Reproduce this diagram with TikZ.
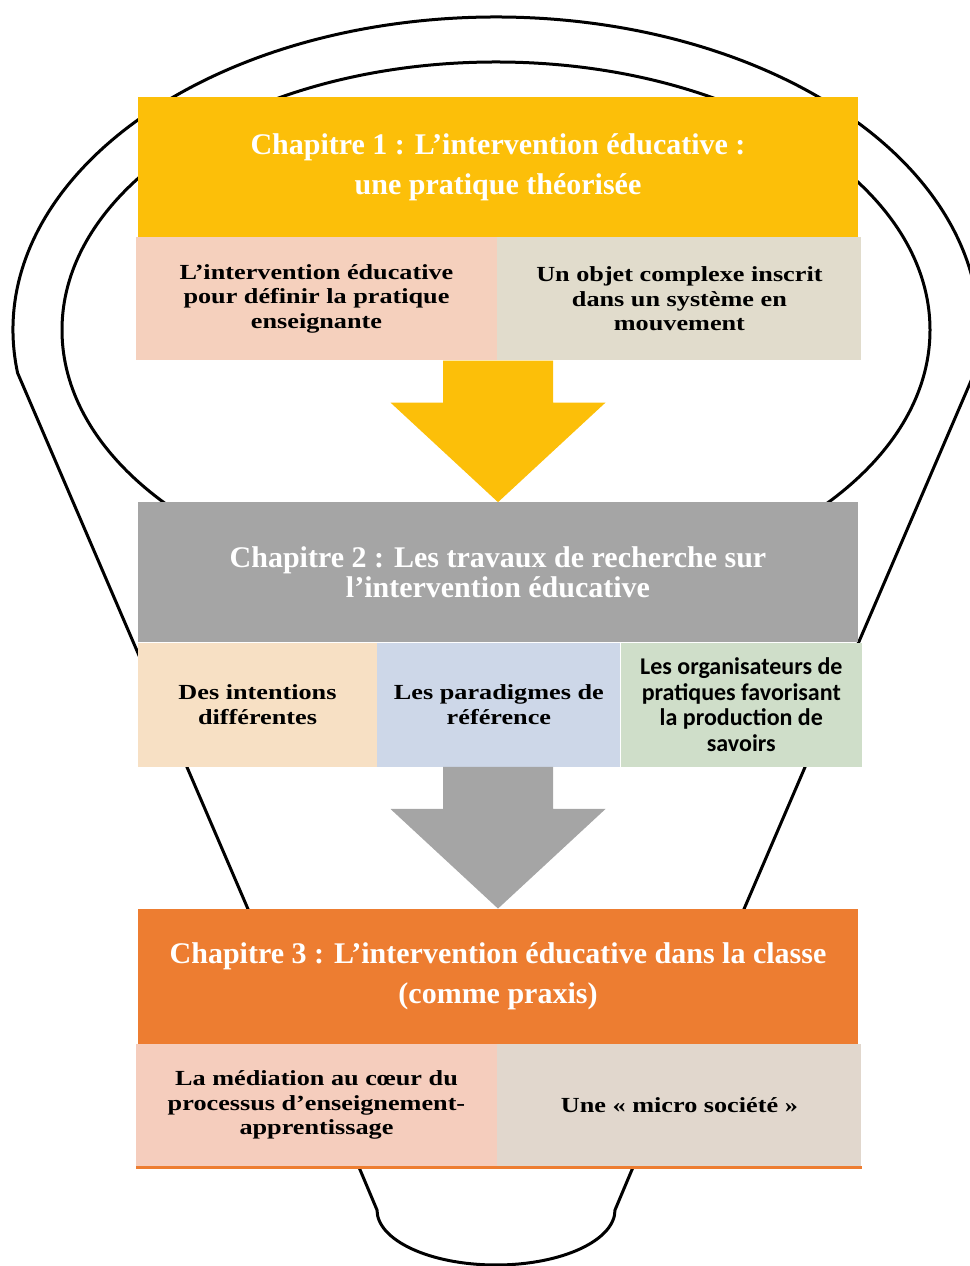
\documentclass[tikz,border=0pt]{standalone}
\usepackage{fontspec}
\setmainfont{Liberation Serif}
\newfontfamily\widefont{Liberation Serif}[FakeStretch=1.22]
\newfontfamily\calfont{Carlito}
\usetikzlibrary{positioning}

\definecolor{chapA}{RGB}{252,191,9}
\definecolor{chapB}{RGB}{165,165,165}
\definecolor{chapC}{RGB}{237,125,49}
\definecolor{roseA}{RGB}{245,208,189}
\definecolor{beigeA}{RGB}{225,220,204}
\definecolor{peche}{RGB}{247,224,196}
\definecolor{bleu}{RGB}{205,215,232}
\definecolor{vert}{RGB}{207,222,201}
\definecolor{roseC}{RGB}{245,205,189}
\definecolor{beigeC}{RGB}{225,215,205}

\begin{document}
\begin{tikzpicture}[x=1pt, y=1pt, node distance=0pt,
	titre/.style={fill=#1, text=white, font=\bfseries\fontsize{30}{40}\selectfont, align=center, minimum width=720pt, inner sep=0pt},
	sous/.style={fill=#1, text=black, font=\widefont\bfseries\fontsize{21.5}{24.5}\selectfont, align=center, inner sep=0pt},
	bulbe/.style={draw=black, line width=3pt}]
	\useasboundingbox (0,0) rectangle (969,1266);

	\draw[bulbe] (496,936) ellipse [x radius=434, y radius=268];
	\draw[bulbe] (361,94) -- (17.6,893) arc[start angle=187.9, end angle=-7.9, x radius=483, y radius=313]
		-- (631,94) -- (615,56) arc[start angle=0, end angle=-180, x radius=119, y radius=55] -- cycle;

	\node[titre=chapA, minimum height=140pt] (t1) at (498,1099) {Chapitre 1 : L’intervention éducative :\\ une pratique théorisée};
	\node[sous=roseA, minimum width=361pt, minimum height=123pt, below right=0pt and -2pt of t1.south west] (a1) {L’intervention éducative\\ pour définir la pratique\\ enseignante};
	\node[sous=beigeA, minimum width=364pt, minimum height=123pt, right=0pt of a1] (a2) {Un objet complexe inscrit\\ dans un système en\\ mouvement};

	\node[titre=chapB, minimum height=140pt, font=\bfseries\fontsize{30}{29.5}\selectfont, below=265pt of t1] (t2) {Chapitre 2 : Les travaux de recherche sur\\ l’intervention éducative};
	\node[sous=peche, minimum width=239pt, minimum height=124pt, below right=0pt and 0pt of t2.south west] (b1) {Des intentions\\ différentes};
	\node[sous=bleu, minimum width=243pt, minimum height=124pt, right=0pt of b1] (b2) {Les paradigmes de\\ référence};
	\node[sous=vert, minimum width=241pt, minimum height=124pt, font=\calfont\bfseries\fontsize{24}{25.5}\selectfont, right=0pt of b2] (b3) {Les organisateurs de\\ pratiques favorisant\\ la production de\\ savoirs};

	\node[titre=chapC, minimum height=135pt, below=266pt of t2] (t3) {Chapitre 3 : L’intervention éducative dans la classe\\ (comme praxis)};
	\node[sous=roseC, minimum width=361pt, minimum height=122pt, below right=0pt and -2pt of t3.south west] (c1) {La médiation au cœur du\\ processus d’enseignement-\\ apprentissage};
	\node[sous=beigeC, minimum width=364pt, minimum height=122pt, right=0pt of c1] (c2) {Une «~micro société~»};
	\fill[chapC] (c1.south west) rectangle ([yshift=-3pt]c2.south east);

	\coordinate (s1) at (a1.south -| t1.south);
	\fill[chapA] ([xshift=-55pt]s1) -- ([xshift=55pt]s1) -- ([shift={(55pt,-42pt)}]s1) -- ([shift={(107.5pt,-42pt)}]s1)
		-- (t2.north) -- ([shift={(-107.5pt,-42pt)}]s1) -- ([shift={(-55pt,-42pt)}]s1) -- cycle;
	\coordinate (s2) at (b1.south -| t2.south);
	\fill[chapB] ([xshift=-55pt]s2) -- ([xshift=55pt]s2) -- ([shift={(55pt,-42pt)}]s2) -- ([shift={(107.5pt,-42pt)}]s2)
		-- (t3.north) -- ([shift={(-107.5pt,-42pt)}]s2) -- ([shift={(-55pt,-42pt)}]s2) -- cycle;
\end{tikzpicture}
\end{document}
